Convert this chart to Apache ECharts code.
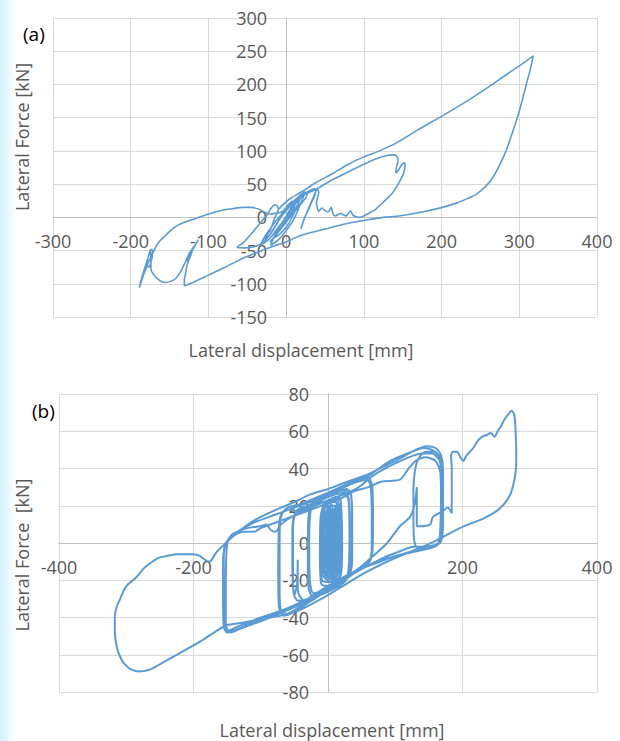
<!DOCTYPE html>
<html><head><meta charset="utf-8">
<script src="https://cdn.jsdelivr.net/npm/echarts@6/dist/echarts.min.js"></script>
<style>
html,body{margin:0;padding:0;background:#fff;}
#glow{position:absolute;left:0;top:0;width:16px;height:741px;background:linear-gradient(to right, rgba(195,238,250,0.75), rgba(255,255,255,0));}
#chart{position:absolute;left:0;top:0;width:620px;height:741px;}
</style></head><body>
<div id="glow"></div><div id="chart"></div>
<script>
const xTicksA = [-300,-200,-100,0,100,200,300,400];
const yTicksA = [-150,-100,-50,0,50,100,150,200,250,300];
const xTicksB = [-400,-200,0,200,400];
const yTicksB = [-80,-60,-40,-20,0,20,40,60,80];
const titleA = '(a)', titleB = '(b)';
const xNameA = 'Lateral displacement [mm]', yNameA = 'Lateral Force [kN]';
const xNameB = 'Lateral displacement [mm]', yNameB = 'Lateral Force  [kN]';

const curveA = [
[0,0],[-10,-15],[-22,-33],[-33,-42],[-28,-30],[-18,-13],[-7,3],[4,18],[14,29],[24,38],[27,34],[19,20],[9,6],[-1,-9],[-12,-25],[-21,-37],[-14,-28],[-4,-12],[5,2],[12,13],[17,21],[10,12],[2,0],
[6,12],[12,22],[8,10],[0,-5],[-6,-16],[-2,-6],[5,10],[13,24],[18,28],[11,8],[3,-10],[-7,-24],[-14,-30],[-9,-16],[1,4],[9,19],[19,32],[24,36],[17,16],[9,-5],[0,-20],[-10,-34],[-20,-42],[-15,-28],[-6,-10],[3,6],[12,20],[22,33],[30,40],[37,43],[38,38],[31,18],[24,0],[19,-17],[22,-6],[29,14],[35,30],[40,42],[42,38],[39,22],[42,9],[46,14],[50,10],[54,8],[58,15],[60,6],[63,2],[70,6],[77,2],[80,6],[83,10],[86,3],[90,1],[94,0],[103,4],[115,12],[126,24],[137,37],[145,52],[151,66],[153,78],[152,82],[148,78],[144,70],[141,67],[142,76],[144,85],[143,91],[138,94],[130,93],[116,88],[100,80],[81,69],[60,57],[38,42],[25,35],[10,22],[0,10],[-8,-2],[-15,-15],[-22,-28],[-30,-38],[-40,-44],[-52,-46],[-63,-45],[-55,-38],[-45,-25],[-35,-11],[-25,3],[-18,16],[-13,19],[-10,12],[-15,-2],[-20,-18],[-28,-33],[-20,-25],[-12,-10],[-5,6],[2,18],[8,25],[2,15],[-6,8],[-14,6],[-20,5],[-26,7],[-35,12],[-44,15],[-55,15],[-69,13],[-85,10],[-100,5],[-112,0],[-125,-5],[-138,-11],[-147,-18],[-155,-27],[-162,-35],[-167,-43],[-172,-55],[-178,-70],[-183,-85],[-189,-106],[-187,-96],[-183,-80],[-178,-62],[-175,-50],[-173,-48],[-172,-55],[-174,-68],[-177,-75],[-179,-70],[-177,-58],[-175,-52],[-174,-62],[-174,-78],[-170,-87],[-165,-93],[-160,-97],[-155,-98],[-148,-96],[-142,-92],[-136,-82],[-130,-68],[-125,-55],[-120,-46],[-116,-40],[-113,-34],[-116,-40],[-121,-50],[-126,-60],[-128,-66],[-126,-60],[-122,-50],[-120,-48],[-123,-58],[-127,-70],[-129,-82],[-131,-95],[-131,-103],[-120,-98],[-100,-87],[-80,-76],[-60,-64],[-40,-54],[-20,-45],[0,-37],[17,-28],[35,-22],[59,-15],[80,-9],[103,-4],[125,0],[145,2],[175,8],[201,15],[218,21],[231,27],[245,35],[257,47],[266,60],[274,77],[283,100],[291,127],[298,152],[304,177],[309,200],[314,222],[318,243],[305,232],[290,220],[270,204],[250,188],[230,173],[200,152],[170,132],[142,112],[120,100],[100,91],[80,80],[60,66],[38,52],[25,42],[15,35],[5,28],[-5,18],[-10,12]
];

const curveB = [
[0,0],[4,12],[7,18],[9,14],[9,-6],[6,-14],[0,-16],[-4,-10],[-5,6],[-2,17],[4,20],[10,20],[12,10],[11,-10],[7,-17],[-2,-18],[-7,-12],[-8,6],[-5,18],[2,22],[11,22],[14,16],[14,-9],[10,-18],[0,-20],[-8,-17],[-10,0],[-8,18],[1,23],[13,23],[17,17],[17,-11],[12,-19],[2,-21],[-9,-20],[-11,-5],[-10,16],[-3,22],[9,24],[18,24],[20,14],[20,-13],[15,-20],[0,-23],[-10,-22],[-12,-8],[-11,14],[-5,21],[6,24],[16,25],[19,20],[19,-10],[16,-19],
[10,-20],[4,-19],[2,-10],[2,10],[3,19],[5,21],[7,18],[7,-8],[6,-17],[3,-19],[-1,-17],[-2,0],[-1,17],[1,20],[4,18],[5,0],[4,-15],[8,-18],[12,-16],[13,0],[13,17],[15,21],[17,19],[17,2],[16,-14],[12,-17],[9,-14],[9,5],[10,18],[12,20],[14,17],[15,-3],[15,-16],[10,-19],[-3,-18],[-6,-12],[-6,8],[-5,18],[-1,21],[2,19],[3,2],[1,-15],[-2,-17],[-7,-15],[-9,-3],[-8,14],[-6,19],[-3,20],[0,17],[1,0],[0,-14],[-3,-18],[-7,-18],[11,-18],[14,-12],[14,8],[16,19],[18,21],[20,17],[21,0],[20,-15],[16,-20],
[5,-24],[-10,-26],[-22,-27],[-27,-20],[-28,0],[-26,17],[-20,21],[-8,22],[8,24],[24,26],[30,24],[32,10],[31,-12],[27,-20],[12,-24],[-5,-27],[-22,-29],[-29,-24],[-30,-5],[-29,14],[-24,20],[-10,23],[10,26],[26,27],[31,23],[32,-10],[28,-19],
[10,-23],[-10,-27],[-30,-30],[-45,-31],[-51,-27],[-53,-12],[-53,6],[-51,14],[-45,18],[-30,20],[-15,22],[0,25],[20,28],[32,28],[35,22],[35,-6],[33,-16],[24,-21],[5,-25],[-15,-28],[-35,-31],[-44,-27],[-45,-20],[-45,-9],[-46,-22],[-50,-28],[-52,-22],[-52,8],[-49,15],[-40,18],[-25,20],[-10,24],[10,27],[28,29],[34,26],[36,15],[36,-8],[32,-17],
[20,-20],[0,-25],[-20,-30],[-45,-35],[-62,-38],[-70,-36],[-72,-25],[-72,0],[-71,12],[-66,17],[-55,18],[-45,17],[-35,19],[-20,22],[0,26],[20,30],[45,33],[58,34],[63,31],[65,18],[65,-3],[61,-10],[48,-13],[25,-19],[0,-25],[-25,-31],[-50,-37],[-66,-39],[-73,-34],[-74,-15],[-73,8],[-70,15],[-60,19],[-40,21],[-20,24],[0,27],[25,31],[50,35],[60,35],[66,30],[67,10],[66,-5],[60,-11],
[40,-16],[20,-21],[0,-25],[-30,-31],[-60,-36],[-100,-42],[-130,-46],[-145,-48],[-151,-46],[-154,-40],[-155,-25],[-155,-8],[-153,-1],[-150,1],[-141,5],[-120,8],[-101,9],[-92,10],[-85,7],[-78,6],[-70,10],[-50,15],[-20,20],[10,24],[30,27],[50,31],[62,35],[90,41],[120,46],[140,48],[155,48],[165,45],[170,40],[171,25],[170,8],[167,0],[160,-1],[140,-2],[127,-2],[110,-4],[82,-8],[50,-14],[18,-20],[-20,-28],[-60,-35],[-100,-40],[-135,-45],[-148,-47],[-152,-43],[-152,-25],[-151,-5],[-148,2],[-135,6],[-110,11],[-80,15],[-50,19],[-27,22],[0,26],[30,31],[60,36],[92,44],[132,50],[141,51],[155,50],[165,47],[170,42],[171,30],[171,10],[168,1],[160,-1],[145,-2],[132,-2],[128,2],[127,15],[127,28],[129,38],[134,45],[145,49],[158,49],[165,46],[168,38],[168,15],[167,3],[163,-1],[150,-3],[125,-5],[100,-7],[70,-11],[48,-14],[30,-17],[0,-23],[-40,-32],[-80,-38],[-120,-44],[-140,-47],[-150,-48],[-155,-45],[-156,-30],[-156,-10],[-154,-2],[-152,0],[-140,4],[-125,6],[-110,6],[-100,8],[-70,12],[-40,16],[-10,20],[20,24],[40,28],[60,30],[80,33],[107,34],[120,40],[130,44],[145,46],[160,44],[167,38],[168,25],[167,8],[164,0],[150,-2],[120,-5],[90,-8],[60,-12],[48,-13],[70,-6],[88,0],[107,9],[122,14],[129,21],[132,30],[132,21],[132,9],[137,9],[152,10],[156,14],[170,17],[178,19],[184,16],[184,30],[184,40],[183,47],[186,49],[192,49],[197,46],[201,44],
[206,47],[216,51],[223,55],[229,57],[236,58],[242,59],[248,57],[252,60],[256,62],[262,66],[268,69],[273,71],[277,69],[279,60],[280,45],[279,38],[276,32],[271,26],[262,21],[250,17],[230,13],[196,8],[170,3],[147,-1],[120,-5],[82,-11],[50,-17],[18,-24],[-10,-30],[-42,-36],[-70,-39],[-101,-41],[-130,-43],[-150,-44],[-165,-47],[-186,-52],[-210,-57],[-240,-63],[-265,-68],[-282,-69],[-292,-68],[-300,-66],[-308,-62],[-314,-56],[-317,-47],[-317,-40],[-314,-34],[-309,-30],[-303,-25],[-297,-22],[-293,-21],[-284,-18],[-275,-14],[-265,-11],[-252,-8],[-240,-7],[-225,-6],[-210,-6],[-200,-6],[-190,-7],[-183,-9],[-177,-10],[-173,-9],[-166,-5],[-155,-1],[-146,2],[-130,7],[-115,11],[-100,14],[-70,19],[-50,22],[-27,26],[0,29],[30,33],[60,37],[88,42],[110,46],[130,50],[147,52],[160,51],[168,47],[171,40],[171,20],[170,5],[166,0]
];

const FONT = 'Open Sans';
const LABEL = '#595959';
const gridA = {left:53, top:18, width:544, height:299};
const gridB = {left:59, top:394, width:538, height:298};
// place each axis line (and its labels) where the other axis has its zero
function zeroShift(ticks, length) {
  const min = ticks[0], max = ticks[ticks.length-1];
  return -length * (0 - min) / (max - min);
}
function xAxis(ticks, yTicks, grid, gi) {
  return {type:'value', gridIndex:gi, min:ticks[0], max:ticks[ticks.length-1], interval:ticks[1]-ticks[0],
    position:'bottom', offset: zeroShift(yTicks, grid.height),
    axisLine:{onZero:false, lineStyle:{color:'#bfbfbf', width:1}}, axisTick:{show:false},
    splitLine:{show:true, lineStyle:{color:'#d9d9d9', width:1}},
    axisLabel:{color:LABEL, fontSize:18, fontFamily:FONT, margin:15}};
}
function yAxis(ticks, xTicks, grid, gi) {
  return {type:'value', gridIndex:gi, min:ticks[0], max:ticks[ticks.length-1], interval:ticks[1]-ticks[0],
    position:'left', offset: zeroShift(xTicks, grid.width),
    axisLine:{onZero:false, lineStyle:{color:'#bfbfbf', width:1}}, axisTick:{show:false},
    splitLine:{show:true, lineStyle:{color:'#d9d9d9', width:1}},
    axisLabel:{color:LABEL, fontSize:18, fontFamily:FONT, margin:19}};
}
const chart = echarts.init(document.getElementById('chart'), null, {renderer:'svg'});
chart.setOption({
  animation:false,
  grid:[gridA, gridB],
  xAxis:[xAxis(xTicksA, yTicksA, gridA, 0), xAxis(xTicksB, yTicksB, gridB, 1)],
  yAxis:[yAxis(yTicksA, xTicksA, gridA, 0), yAxis(yTicksB, xTicksB, gridB, 1)],
  series:[
    {type:'line', xAxisIndex:0, yAxisIndex:0, data:curveA, showSymbol:false, smooth:0.25,
     lineStyle:{color:'#5b9bd5', width:1.6}},
    {type:'line', xAxisIndex:1, yAxisIndex:1, data:curveB, showSymbol:false, smooth:0.25,
     lineStyle:{color:'#5b9bd5', width:2}}
  ],
  graphic:[
    {type:'text', left:23, top:24, style:{text:titleA, fill:'#000', fontSize:19, fontFamily:FONT}},
    {type:'text', left:32, top:401, style:{text:titleB, fill:'#000', fontSize:19, fontFamily:FONT}},
    {type:'text', x:22, y:137, rotation:Math.PI/2, style:{text:yNameA, fill:LABEL, fontSize:18, fontFamily:FONT, align:'center', verticalAlign:'middle'}},
    {type:'text', x:301, y:350, style:{text:xNameA, fill:LABEL, fontSize:18, fontFamily:FONT, align:'center', verticalAlign:'middle'}},
    {type:'text', x:22, y:555, rotation:Math.PI/2, style:{text:yNameB, fill:LABEL, fontSize:18, fontFamily:FONT, align:'center', verticalAlign:'middle'}},
    {type:'text', x:332, y:730, style:{text:xNameB, fill:LABEL, fontSize:18, fontFamily:FONT, align:'center', verticalAlign:'middle'}}
  ]
});
</script></body></html>
